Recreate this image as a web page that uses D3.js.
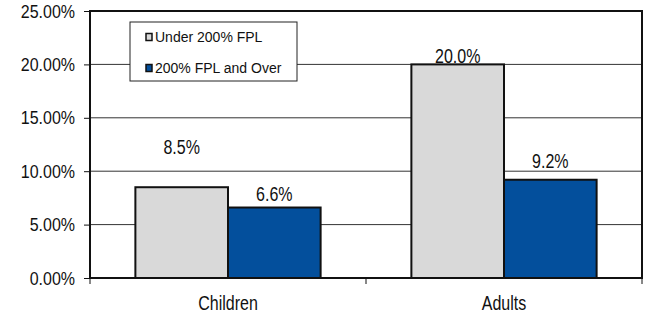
<!DOCTYPE html>
<html>
<head>
<meta charset="utf-8">
<script src="https://cdn.jsdelivr.net/npm/d3@7"></script>
<style>
    body { margin: 0; background: #fff; }
    text { font-family: "Liberation Sans", Arial, sans-serif; fill: #111; }
</style>
</head>
<body>
<div id="chart"></div>
<script>
var categories = ["Children", "Adults"];
var seriesNames = ["Under 200% FPL", "200% FPL and Over"];
var under200 = [8.5, 20.0];
var over200 = [6.6, 9.2];
var yTicks = [0, 5, 10, 15, 20, 25];

(function() {
    var width = 646, height = 318;
    var left = 90, right = 642, top = 11, bottom = 278;
    var colors = ["#d9d9d9", "#034f9c"];
    // hand placed label nudges, same as in the original sheet
    var labelNudge = [[-40, -14], [-8, -19]];

    var svg = d3.select("#chart")
        .append("svg")
        .attr("width", width)
        .attr("height", height);

    var y = d3.scaleLinear().domain([0, 25]).range([bottom, top]);
    var x0 = d3.scaleBand().domain(categories).range([left, right]);
    var x1 = d3.scaleBand().domain(seriesNames)
        .range([0, x0.bandwidth()])
        .paddingInner(0)
        .paddingOuter(0.49);

    // gridlines
    svg.append("g")
        .selectAll("line")
        .data(yTicks.slice(1, -1))
        .enter()
        .append("line")
        .attr("x1", left).attr("x2", right)
        .attr("y1", function(d) { return y(d); })
        .attr("y2", function(d) { return y(d); })
        .attr("stroke", "#333")
        .attr("stroke-width", 1);

    // y axis
    var yAxis = svg.append("g")
        .attr("transform", "translate(" + left + ",0)")
        .call(d3.axisLeft(y).tickValues(yTicks).tickSize(6).tickPadding(9)
            .tickFormat(function(d) { return d3.format(".2f")(d) + "%"; }));
    yAxis.select(".domain").remove();
    yAxis.selectAll(".tick line").attr("stroke", "#111");
    yAxis.selectAll(".tick text")
        .attr("font-size", 16)
        .attr("font-family", "Liberation Sans, Arial, sans-serif")
        .attr("fill", "#111")
        .attr("transform", "scale(1,1.2)");

    // bars
    var rows = categories.map(function(c, i) {
        return [
            { cat: c, s: seriesNames[0], v: under200[i], k: 0, i: i },
            { cat: c, s: seriesNames[1], v: over200[i], k: 1, i: i }
        ];
    });
    var groups = svg.selectAll(".grp")
        .data(rows)
        .enter()
        .append("g")
        .attr("class", "grp")
        .attr("transform", function(d, i) {
            return "translate(" + x0(categories[i]) + ",0)";
        });
    groups.selectAll("rect")
        .data(function(d) { return d; })
        .enter()
        .append("rect")
        .attr("x", function(d) { return x1(d.s); })
        .attr("y", function(d) { return y(d.v); })
        .attr("width", x1.bandwidth())
        .attr("height", function(d) { return y(0) - y(d.v); })
        .attr("fill", function(d) { return colors[d.k]; })
        .attr("stroke", "#111")
        .attr("stroke-width", 2);

    groups.selectAll(".lbl")
        .data(function(d) { return d; })
        .enter()
        .append("text")
        .attr("class", "lbl")
        .attr("transform", function(d) {
            var cx = x1(d.s) + x1.bandwidth() / 2;
            var cy = y(d.v) + labelNudge[d.i][d.k];
            return "translate(" + cx + "," + cy + ") scale(1,1.25)";
        })
        .attr("dy", "0.35em")
        .attr("text-anchor", "middle")
        .attr("font-size", 16)
        .text(function(d) { return d3.format(".1f")(d.v) + "%"; });

    // frame
    svg.append("rect")
        .attr("x", left).attr("y", top)
        .attr("width", right - left).attr("height", bottom - top)
        .attr("fill", "none")
        .attr("stroke", "#111")
        .attr("stroke-width", 2);

    // x axis ticks at category edges
    var edges = categories.map(function(c) { return x0(c); }).concat([right]);
    svg.append("g")
        .selectAll("line")
        .data(edges)
        .enter()
        .append("line")
        .attr("x1", function(d) { return d; })
        .attr("x2", function(d) { return d; })
        .attr("y1", bottom)
        .attr("y2", bottom + 6)
        .attr("stroke", "#111");

    svg.append("g")
        .selectAll("text")
        .data(categories)
        .enter()
        .append("text")
        .attr("transform", function(d) {
            return "translate(" + (x0(d) + x0.bandwidth() / 2) + ",303) scale(1,1.25)";
        })
        .attr("dy", "0.35em")
        .attr("text-anchor", "middle")
        .attr("font-size", 16)
        .text(function(d) { return d; });

    // legend
    var legend = svg.append("g").attr("transform", "translate(130,22)");
    legend.append("rect")
        .attr("width", 167).attr("height", 59)
        .attr("fill", "#fff")
        .attr("stroke", "#222")
        .attr("stroke-width", 1);
    var item = legend.selectAll(".item")
        .data(seriesNames)
        .enter()
        .append("g")
        .attr("class", "item")
        .attr("transform", function(d, i) {
            return "translate(0," + (15 + i * 31) + ")";
        });
    item.append("rect")
        .attr("x", 16).attr("y", -3.5)
        .attr("width", 6).attr("height", 7)
        .attr("fill", function(d, i) { return colors[i]; })
        .attr("stroke", "#111")
        .attr("stroke-width", 1.5);
    item.append("text")
        .attr("x", 25)
        .attr("dy", "0.35em")
        .attr("font-size", 14)
        .text(function(d) { return d; });
})();
</script>
</body>
</html>
